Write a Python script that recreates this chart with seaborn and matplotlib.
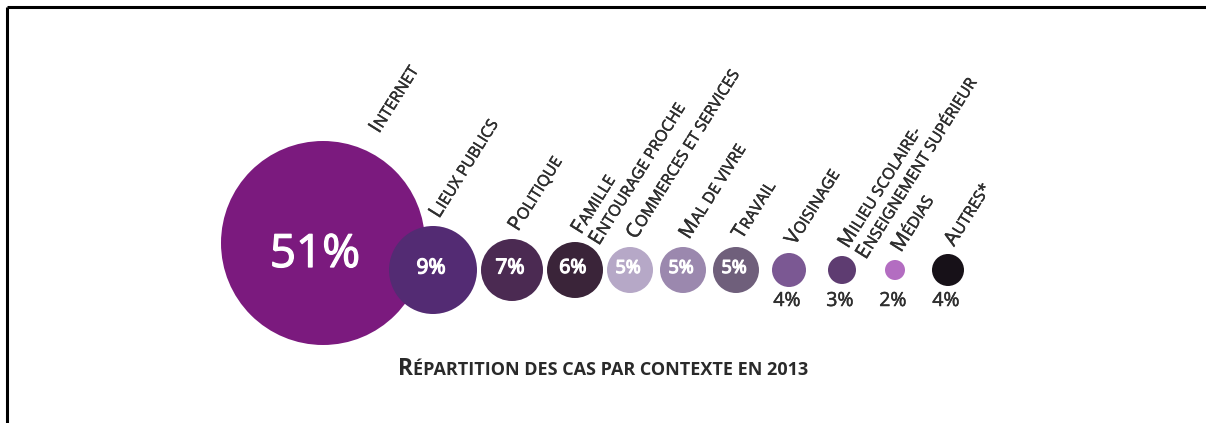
import numpy as np
import pandas as pd
import seaborn as sns
import matplotlib.pyplot as plt
import matplotlib.patheffects as pe
from matplotlib.transforms import IdentityTransform

contexts = ['Internet', 'Lieux publics', 'Politique', 'Famille\nEntourage proche',
            'Commerces et services', 'Mal de vivre', 'Travail', 'Voisinage',
            'Milieu scolaire-\nEnseignement supérieur', 'Médias', 'Autres*']
shares = [51, 9, 7, 6, 5, 5, 5, 4, 3, 2, 4]
title = 'Répartition des cas par contexte en 2013'

# styles
colors = ['#7b1a7e', '#532b73', '#4b2a52', '#3a2439', '#b6a8c7', '#9b88ae',
          '#6f5f7b', '#7b5893', '#5e3c71', '#b36dc1', '#171118']
radius_px = [102, 44, 31, 28, 23, 23, 23, 17, 14, 10, 16]
inner_font = [33, 15, 15, 14, 13, 13, 13]
label_color = '#2e2e2e'
angle = 58

# layout: pack the bubbles left to right
xs = [323.0]
for i in range(1, len(shares)):
    if i == 1:
        step = radius_px[0] + radius_px[1] - 36  # 9% bubble overlaps the big one
    else:
        step = max(radius_px[i - 1] + radius_px[i] + 4, 53)
    xs.append(xs[-1] + step)
baseline = 270.0
ys = [baseline - 27 if i == 0 else baseline for i in range(len(shares))]

sns.set_style('white')
plt.rcParams['font.family'] = ['Open Sans', 'DejaVu Sans']

fig = plt.figure(figsize=(12.06, 4.23), dpi=100)
ax = fig.add_axes([0, 0, 1, 1])

df = pd.DataFrame({'context': contexts, 'share': shares, 'x': xs, 'y': ys})
px2pt = 72 / 100
sizes = {c: (2 * r * px2pt) ** 2 for c, r in zip(contexts, radius_px)}
sns.scatterplot(data=df, x='x', y='y', hue='context', palette=dict(zip(contexts, colors)),
                size='context', sizes=sizes, legend=False, linewidth=0, ax=ax)
ax.set_xlim(0, 1206)
ax.set_ylim(423, 0)
ax.axis('off')

# frame lines (top and left only)
ax.plot([6.5, 1206], [7.5, 7.5], color='black', lw=2.2, solid_capstyle='butt', clip_on=False)
ax.plot([6.5, 6.5], [7.5, 423], color='black', lw=2.2, solid_capstyle='butt', clip_on=False)

# slightly heavier strokes than the regular face (medium weight look)
thick_white = [pe.withStroke(linewidth=0.9, foreground='white')]
thick_dark = [pe.withStroke(linewidth=0.35, foreground=label_color)]

# percentages
for i, v in enumerate(shares):
    if v >= 5:
        dx, dy = (-8, 12) if i == 0 else (-2, -2)
        ax.text(xs[i] + dx, ys[i] + dy, f'{v}%', color='white', size=inner_font[i],
                ha='center', va='center', path_effects=thick_white)
    else:
        ax.text(xs[i] - 2, baseline + 31, f'{v}%', color=label_color, size=14,
                ha='center', va='center', path_effects=thick_dark)

fig.canvas.draw()
renderer = fig.canvas.get_renderer()


def text_width(s, size, weight):
    t = ax.text(0, 0, s, size=size, weight=weight, transform=IdentityTransform())
    w = t.get_window_extent(renderer).width
    t.remove()
    return w


def advance(s, size, weight):
    return text_width(s + 'H', size, weight) - text_width('H', size, weight)


def runs_of(line):
    # fake small caps: capital letters big, everything else upper-cased smaller
    runs = []
    for ch in line:
        big = ch.isupper()
        if runs and runs[-1][1] == big:
            runs[-1][0] += ch.upper()
        else:
            runs.append([ch.upper(), big])
    return runs


def caps_width(line, big, small, weight):
    return sum(advance(c, big if b else small, weight) for c, b in runs_of(line))


def draw_caps(x, y, line, big, small, rot=0.0, weight='normal', color=label_color, effects=None):
    x0, y0 = ax.transData.transform((x, y))
    c, s = np.cos(np.radians(rot)), np.sin(np.radians(rot))
    pos = 0.0
    for chunk, is_big in runs_of(line):
        size = big if is_big else small
        ax.text(x0 + pos * c, y0 + pos * s, chunk, size=size, weight=weight, color=color,
                rotation=rot, rotation_mode='anchor', ha='left', va='baseline',
                transform=IdentityTransform(), path_effects=effects)
        pos += advance(chunk, size, weight) + 0.4


# rotated category labels
big_sz, small_sz = 14.5, 11.5
line_gap = 21
sa, ca = np.sin(np.radians(angle)), np.cos(np.radians(angle))
for i, name in enumerate(contexts):
    r = radius_px[i]
    lx = xs[i] + 6 + max(0, r - 52)
    ly = ys[i] - r - 7
    for k, line in enumerate(name.split('\n')):
        draw_caps(lx + k * line_gap * sa, ly + k * line_gap * ca, line, big_sz, small_sz,
                  rot=angle, effects=thick_dark)

# caption under the bubbles
tw = caps_width(title, 16.5, 13, 'bold')
draw_caps(603 - tw / 2, 375, title, 16.5, 13, weight='bold', color='#2a2a2a')

plt.savefig('out.png', dpi=100)
